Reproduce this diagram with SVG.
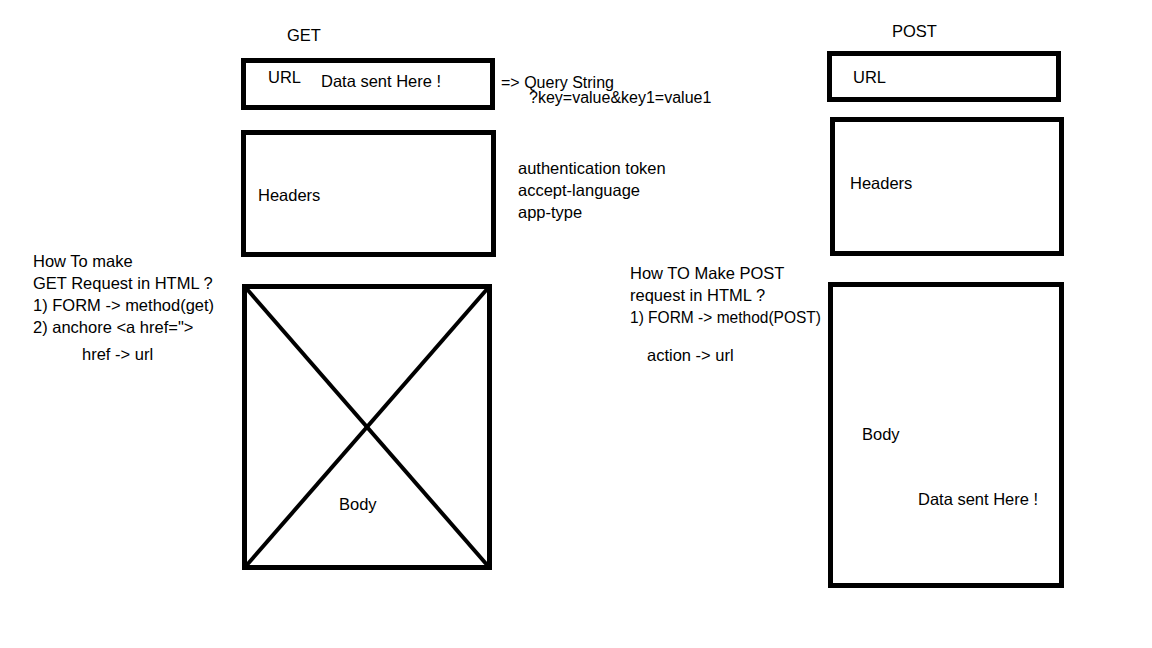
<svg xmlns="http://www.w3.org/2000/svg" width="1152" height="648" viewBox="0 0 1152 648">
<style>
.box{fill:none;stroke:#000;stroke-width:5}
.t{font-family:"Liberation Sans",Arial,sans-serif;font-size:16.5px;fill:#000}
.a{font-family:"Liberation Sans",Arial,sans-serif;font-size:16px;fill:#000}
</style>
<rect width="1152" height="648" fill="#fff"/>
<g id="get-title"><text class="t" x="287" y="41">GET</text></g>
<g id="get-url">
<rect class="box" x="243.5" y="60.5" width="249" height="47"/>
<text class="t" x="268" y="83">URL</text>
<text class="t" x="321" y="87">Data sent Here !</text>
</g>
<g id="query-string">
<text class="a" x="501" y="88">=&gt; Query String</text>
<text class="a" x="529" y="103">?key=value&amp;key1=value1</text>
</g>
<g id="get-headers">
<rect class="box" x="243.5" y="132.5" width="250" height="122"/>
<text class="t" x="258" y="201">Headers</text>
</g>
<g id="header-list">
<text class="t" x="518" y="174">authentication token</text>
<text class="t" x="518" y="196">accept-language</text>
<text class="t" x="518" y="218">app-type</text>
</g>
<g id="get-body">
<rect class="box" x="244.5" y="286.5" width="245" height="281"/>
<text class="t" x="339" y="510">Body</text>
</g>
<g id="get-howto">
<text class="t" x="33" y="267">How To make</text>
<text class="t" x="33" y="289">GET Request in HTML ?</text>
<text class="t" x="33" y="311">1) FORM -&gt; method(get)</text>
<text class="t" x="33" y="333">2) anchore &lt;a href="&gt;</text>
<text class="t" x="82" y="360">href -&gt; url</text>
</g>
<g id="post-title"><text class="t" x="892" y="37">POST</text></g>
<g id="post-url">
<rect class="box" x="829.5" y="53.5" width="229" height="46"/>
<text class="t" x="853" y="83">URL</text>
</g>
<g id="post-headers">
<rect class="box" x="832.5" y="119.5" width="229" height="134"/>
<text class="t" x="850" y="189">Headers</text>
</g>
<g id="post-body">
<rect class="box" x="830.5" y="284.5" width="231" height="301"/>
<text class="t" x="862" y="440">Body</text>
<text class="t" x="918" y="505">Data sent Here !</text>
</g>
<g id="post-howto">
<text class="t" x="630" y="279">How TO Make POST</text>
<text class="t" x="630" y="301">request in HTML ?</text>
<text class="t" x="630" y="323" textLength="191" lengthAdjust="spacingAndGlyphs">1) FORM -&gt; method(POST)</text>
<text class="t" x="647" y="361">action -&gt; url</text>
</g>
<g id="connectors">
<line x1="246" y1="288" x2="488" y2="566" stroke="#000" stroke-width="4"/>
<line x1="488" y1="288" x2="246" y2="566" stroke="#000" stroke-width="4"/>
</g>
</svg>
